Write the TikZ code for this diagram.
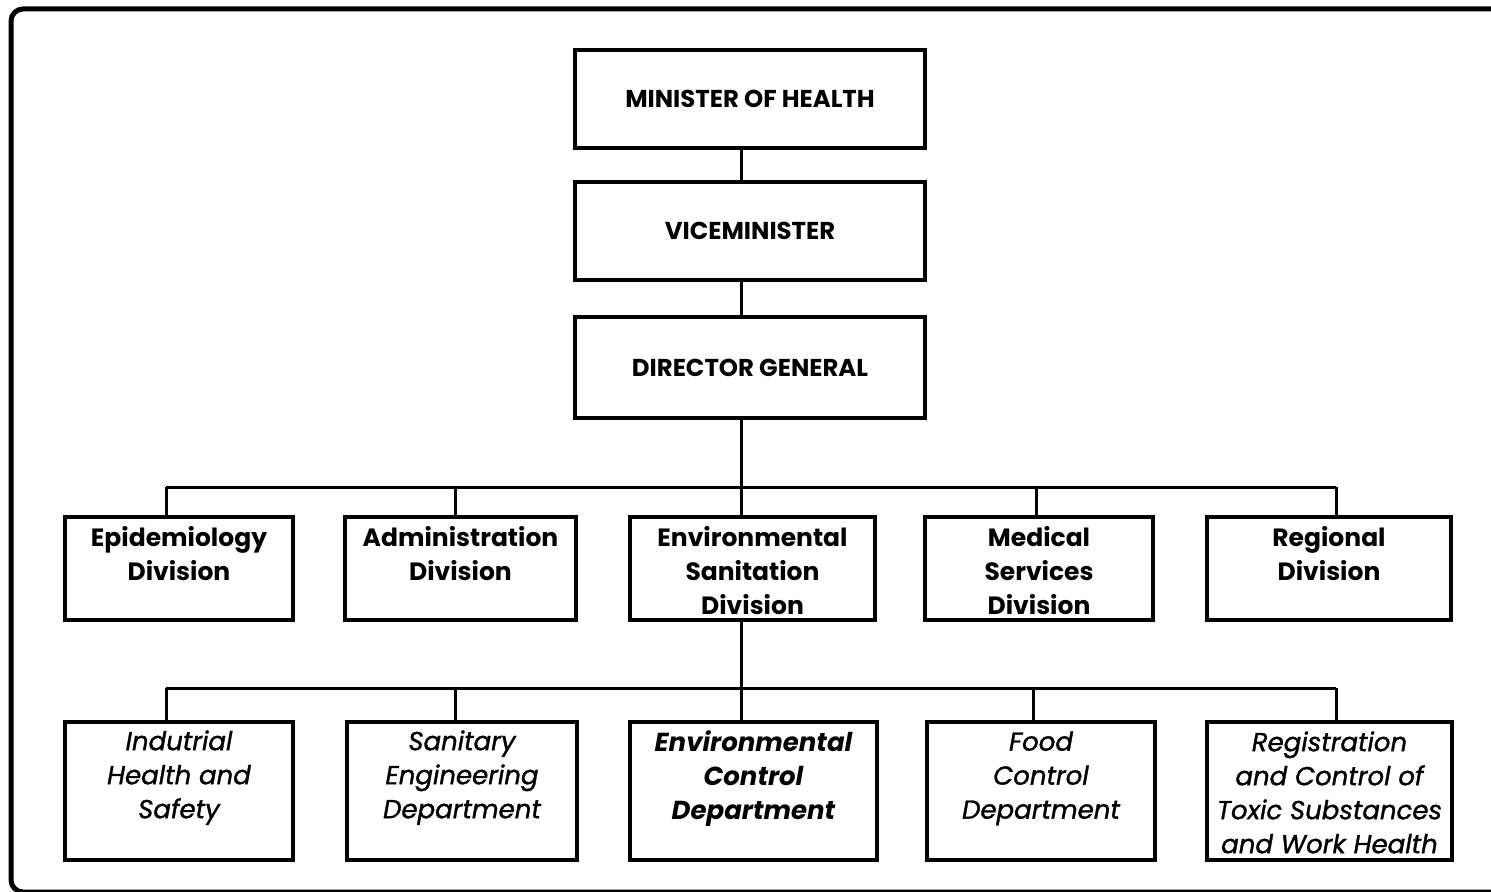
\documentclass[tikz,border=0pt]{standalone}
\usepackage{fontspec}
\setmainfont{Poppins}
\usetikzlibrary{shadows}
\begin{document}
\begin{tikzpicture}[x=0.5pt,y=-0.5pt,
  box/.style={draw, line width=2pt, rectangle, inner sep=0pt},
  topbox/.style={box, minimum width=175pt, font=\bfseries\fontsize{12.2}{14}\selectfont},
  divbox/.style={box, minimum height=51.5pt},
  deptbox/.style={box, minimum height=69pt},
  shadowed/.style={fill=white, drop shadow={shadow xshift=1.2pt, shadow yshift=-1.2pt, fill=black, opacity=1}},
  divtext/.style={anchor=north, align=center, inner sep=0pt, font=\bfseries\fontsize{12.5}{17}\selectfont},
  depttext/.style={anchor=north, align=center, inner sep=0pt, font=\itshape\addfontfeatures{FakeBold=1.2}\fontsize{13}{17}\selectfont},
  link/.style={line width=1.5pt},
  frame/.style={line width=2.5pt, rounded corners=6pt}]
\useasboundingbox (0,0) rectangle (1491,892);
\draw[frame] (1530,9) -- (11,9) -- (11,892) -- (1530,892);

% top chain
\node[topbox, minimum height=49pt] (minister) at (750,99) {MINISTER OF HEALTH};
\node[topbox, minimum height=49pt] (vice) at (750,231) {VICEMINISTER};
\node[topbox, minimum height=50.5pt] (dg) at (750,367.5) {DIRECTOR GENERAL};

% divisions
\node[divbox, minimum width=114pt] (epi) at (179,568.5) {};
\node[divbox, minimum width=115.5pt] (adm) at (460.5,568.5) {};
\node[divbox, minimum width=122.5pt, shadowed] (envsan) at (752.5,568.5) {};
\node[divbox, minimum width=114pt] (med) at (1039,568.5) {};
\node[divbox, minimum width=122pt] (reg) at (1329,568.5) {};

\node[divtext] (tepi) at ([yshift=-5.5pt]epi.north) {Epidemiology\\Division};
\node[divtext] (tadm) at ([yshift=-5.5pt]adm.north) {Administration\\Division};
\node[divtext] (tenvsan) at ([yshift=-5.5pt]envsan.north) {Environmental\\Sanitation\\Division};
\node[divtext] (tmed) at ([yshift=-5.5pt]med.north) {Medical\\Services\\Division};
\node[divtext] (treg) at ([yshift=-5.5pt]reg.north) {Regional\\Division};

% departments
\node[deptbox, minimum width=114pt] (ind) at (179,791) {};
\node[deptbox, minimum width=115pt] (san) at (462,791) {};
\node[deptbox, minimum width=123.5pt, shadowed] (envctl) at (753.5,791) {};
\node[deptbox, minimum width=114pt] (food) at (1041,791) {};
\node[deptbox, minimum width=122.5pt] (tox) at (1329.5,791) {};

\node[depttext] (tind) at ([yshift=-5pt]ind.north) {Indutrial\\Health and\\Safety};
\node[depttext] (tsan) at ([yshift=-5pt]san.north) {Sanitary\\Engineering\\Department};
\node[depttext, font=\bfseries\itshape\fontsize{13}{17}\selectfont] (tenvctl) at ([yshift=-5pt]envctl.north) {Environmental\\Control\\Department};
\node[depttext] (tfood) at ([yshift=-5.5pt]food.north) {Food\\Control\\Department};
\node[depttext] (ttox) at ([yshift=-5.5pt]tox.north) {Registration\\and Control of\\Toxic Substances\\and Work Health};

% connectors
\coordinate (trunk) at (741,0);
\coordinate (d1) at (166,487);
\coordinate (d2) at (455,487);
\coordinate (d3) at (741,487);
\coordinate (d4) at (1036,487);
\coordinate (d5) at (1336,487);
\coordinate (e1) at (166,688);
\coordinate (e2) at (455,688);
\coordinate (e3) at (741,688);
\coordinate (e4) at (1033,688);
\coordinate (e5) at (1336,688);

\draw[link] (minister.south -| trunk) -- (vice.north -| trunk);
\draw[link] (vice.south -| trunk) -- (dg.north -| trunk);
\draw[link] (dg.south -| trunk) -- (d3);
\draw[link] (d1) -- (d5);
\draw[link] (d1) -- (d1 |- epi.north);
\draw[link] (d2) -- (d2 |- adm.north);
\draw[link] (d3) -- (d3 |- envsan.north);
\draw[link] (d4) -- (d4 |- med.north);
\draw[link] (d5) -- (d5 |- reg.north);

\draw[link] (envsan.south -| trunk) -- (e3);
\draw[link] (e1) -- (e5);
\draw[link] (e1) -- (e1 |- ind.north);
\draw[link] (e2) -- (e2 |- san.north);
\draw[link] (e3) -- (e3 |- envctl.north);
\draw[link] (e4) -- (e4 |- food.north);
\draw[link] (e5) -- (e5 |- tox.north);
\end{tikzpicture}
\end{document}
